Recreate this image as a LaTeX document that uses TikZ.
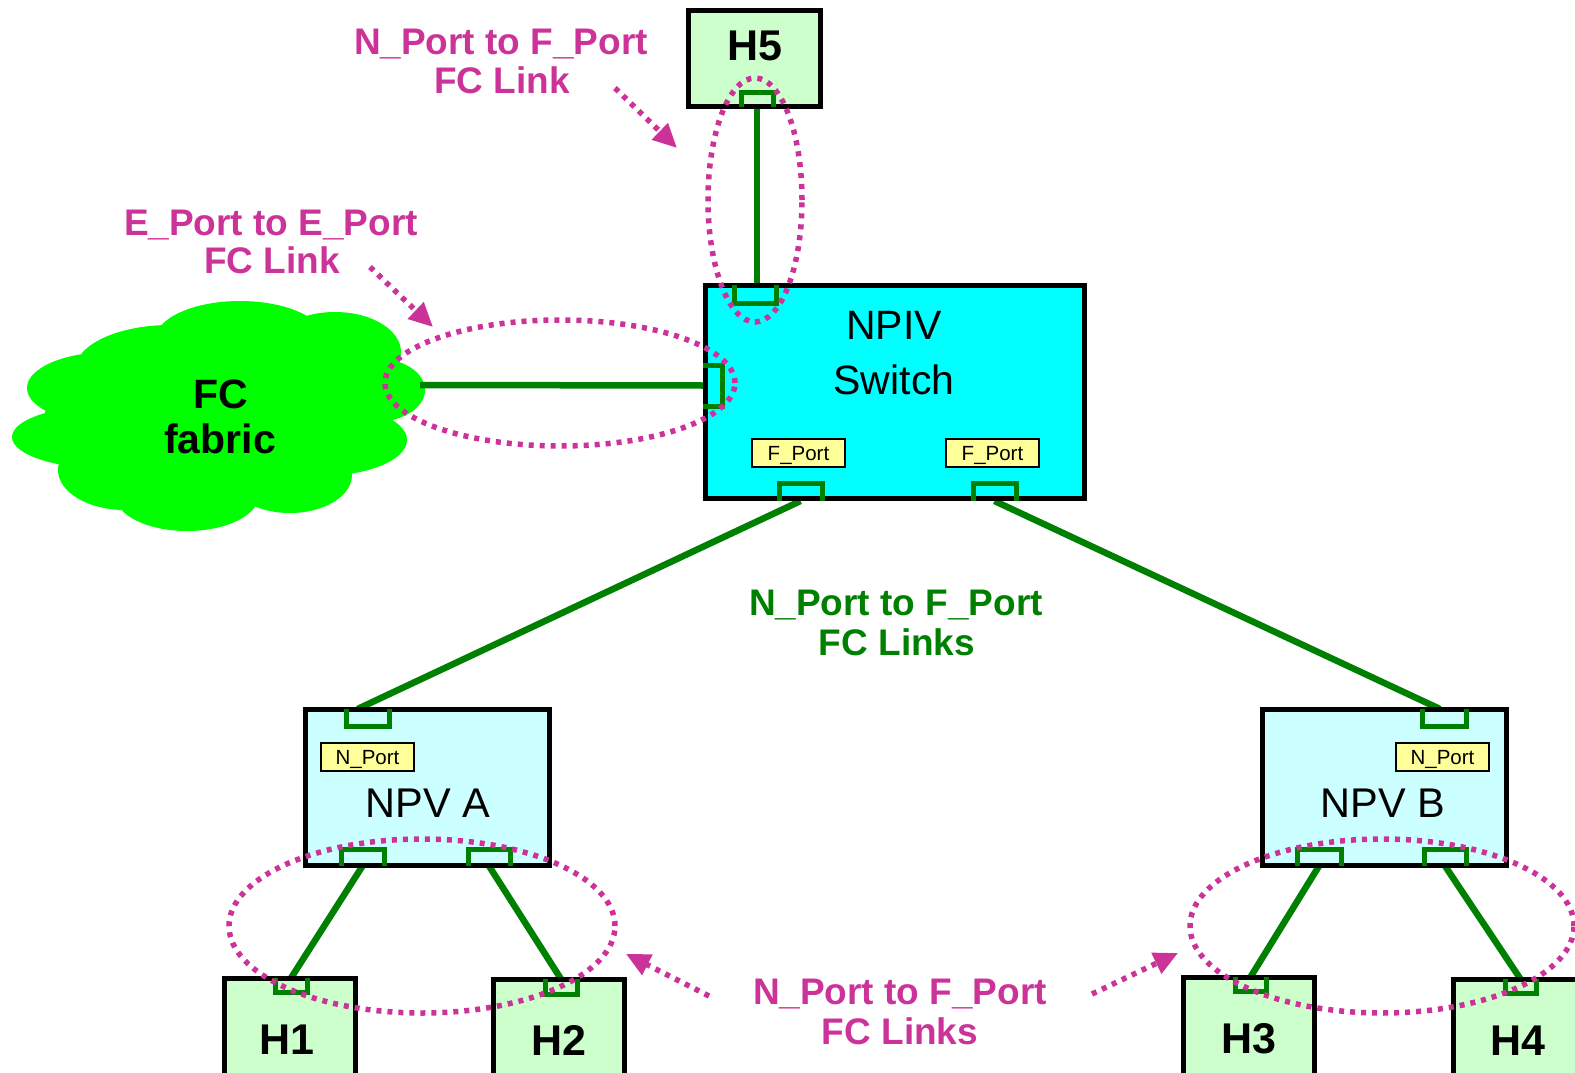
\documentclass[tikz,border=0pt]{standalone}
\usepackage{fontspec}
\setmainfont{Liberation Sans}
\usetikzlibrary{arrows.meta,shapes.geometric,backgrounds}

\definecolor{linkgreen}{RGB}{0,128,0}
\definecolor{hostfill}{RGB}{204,255,204}
\definecolor{switchfill}{RGB}{0,255,255}
\definecolor{npvfill}{RGB}{204,255,255}
\definecolor{tagfill}{RGB}{255,255,153}
\definecolor{fabricgreen}{RGB}{0,255,0}
\definecolor{notemag}{RGB}{204,51,153}

\newcommand\pxfont[1]{\fontsize{#1}{#1}\selectfont}

\begin{document}
\begin{tikzpicture}[x=1pt,y=-1pt,
  box/.style={draw=black,line width=5pt,inner sep=0pt,anchor=north west},
  hostbox/.style={box,fill=hostfill,minimum width=131pt,minimum height=140pt},
  npvbox/.style={box,fill=npvfill,minimum width=243.5pt,minimum height=156pt},
  port/.style={inner sep=0pt,outer sep=0pt,minimum width=#1},
  portline/.style={draw=linkgreen,line width=5pt},
  link/.style={draw=linkgreen,line width=6.5pt},
  tag/.style={draw=black,line width=1.8pt,fill=tagfill,inner sep=0pt,
    minimum width=93pt,minimum height=28pt,font=\pxfont{20.5},
    text height=14.7pt,text depth=0pt},
  boxtext/.style={anchor=base,inner sep=0pt,font=\pxfont{41}},
  hosttext/.style={anchor=base,inner sep=0pt,font=\pxfont{43}\bfseries},
  notetext/.style={anchor=base,inner sep=0pt,font=\pxfont{37}\bfseries,text=notemag},
  greentext/.style={anchor=base,inner sep=0pt,font=\pxfont{37}\bfseries,text=linkgreen},
  note/.style={draw=notemag,line width=5.5pt,dash pattern=on 5pt off 6pt},
  ring/.style={note,ellipse,inner sep=0pt,outer sep=0pt},
  pointer/.style={note,-{Triangle[length=24pt,width=22pt]}}
]
\useasboundingbox (0,0) rectangle (1575,1073);

% ---------- switches and hosts ----------
\node[box,fill=hostfill,minimum width=132pt,minimum height=96pt] (h5) at (686,8) {};
\node[box,fill=switchfill,minimum width=379pt,minimum height=213pt] (npiv) at (703,283) {};
\node[npvbox] (npva) at (303,707) {};
\node[npvbox] (npvb) at (1260,707) {};
\node[hostbox] (h1) at (222,976) {};
\node[hostbox] (h2) at (491,977) {};
\node[hostbox] (h3) at (1181,975) {};
\node[hostbox] (h4) at (1451,977) {};

% ---------- port brackets ----------
\node[port=32pt,minimum height=14pt] (h5p) at (757,100) {};
\node[port=42pt,minimum height=18pt] (swT) at (755,294) {};
\node[port=19pt,minimum height=41pt] (swL) at (712.5,385.5) {};
\node[port=43pt,minimum height=18pt] (swB1) at (800.5,492) {};
\node[port=43pt,minimum height=18pt] (swB2) at (994.5,492) {};
\node[port=43pt,minimum height=17pt] (aT) at (367.5,717.5) {};
\node[port=43pt,minimum height=17pt] (aB1) at (362.5,857.5) {};
\node[port=42pt,minimum height=17pt] (aB2) at (489,857.5) {};
\node[port=44pt,minimum height=17pt] (bT) at (1444,717.5) {};
\node[port=44pt,minimum height=17pt] (bB1) at (1319,857.5) {};
\node[port=42pt,minimum height=17pt] (bB2) at (1445,857.5) {};
\node[port=32pt,minimum height=14pt] (h1p) at (291,985) {};
\node[port=32pt,minimum height=15pt] (h2p) at (561,986.5) {};
\node[port=31pt,minimum height=14pt] (h3p) at (1250.5,984) {};
\node[port=31pt,minimum height=14pt] (h4p) at (1520.5,986) {};

% open towards the bottom
\foreach \p in {h5p,swB1,swB2,aB1,aB2,bB1,bB2}
  \draw[portline] (\p.south west) |- (\p.north east) -- (\p.south east);
% open towards the top
\foreach \p in {swT,aT,bT,h1p,h2p,h3p,h4p}
  \draw[portline] (\p.north west) |- (\p.south east) -- (\p.north east);
% open towards the left
\draw[portline] (swL.north west) -| (swL.south east) -- (swL.south west);

% ---------- port type tags ----------
\node[tag] (tagF1) at (798.5,453) {F\_Port};
\node[tag] (tagF2) at (992.5,453) {F\_Port};
\node[tag] (tagNA) at (367.5,757) {N\_Port};
\node[tag] (tagNB) at (1442.5,757) {N\_Port};

% ---------- device names ----------
\node[hosttext] (h5t) at (755,60) {H5};
\node[boxtext] (npivt1) at (894,339) {NPIV};
\node[boxtext] (npivt2) at (894,394) {Switch};
\node[boxtext,font=\pxfont{41.5}] (npvat) at (428,817) {NPV A};
\node[boxtext,font=\pxfont{41.5}] (npvbt) at (1383,817) {NPV B};
\node[hosttext] (h1t) at (287,1054) {H1};
\node[hosttext] (h2t) at (559,1055) {H2};
\node[hosttext] (h3t) at (1249,1053) {H3};
\node[hosttext] (h4t) at (1518,1055) {H4};

% ---------- fabric cloud and links (behind everything) ----------
\coordinate (cloudR) at (420,385);
\begin{pgfonlayer}{background}
  \fill[fabricgreen]
    (215,415) ellipse [x radius=170pt, y radius=75pt]
    (240,340) ellipse [x radius=85pt, y radius=39pt]
    (170,370) ellipse [x radius=95pt, y radius=45pt]
    (335,352) ellipse [x radius=66pt, y radius=40pt]
    (375,390) ellipse [x radius=50pt, y radius=32pt]
    (320,440) ellipse [x radius=87pt, y radius=36pt]
    (290,475) ellipse [x radius=62pt, y radius=38pt]
    (187,495) ellipse [x radius=72pt, y radius=36pt]
    (125,470) ellipse [x radius=67pt, y radius=40pt]
    (110,437) ellipse [x radius=98pt, y radius=32pt]
    (110,388) ellipse [x radius=83pt, y radius=36pt];
  \draw[link] (h5p.south) -- (h5p.south |- swT.north);
  \draw[link] (cloudR) -- (swL.west);
  \draw[link] (swB1.south) -- ([xshift=-10pt]aT.north);
  \draw[link] (swB2.south) -- ([xshift=-4pt]bT.north);
  \draw[link] (aB1.south) -- (h1p.north);
  \draw[link] (aB2.south) -- (h2p.north);
  \draw[link] (bB1.south) -- (h3p.north);
  \draw[link] (bB2.south) -- (h4p.north);
\end{pgfonlayer}
\node[hosttext,font=\pxfont{41}\bfseries] (fabt1) at (221,408) {FC};
\node[hosttext,font=\pxfont{41}\bfseries] (fabt2) at (220,453) {fabric};

% ---------- link annotations ----------
\node[ring,minimum width=94pt,minimum height=244pt] (ringH5) at (755,200) {};
\node[ring,minimum width=350pt,minimum height=126pt] (ringE) at (560,383) {};
\node[ring,minimum width=386pt,minimum height=174pt] (ringA) at (422,926) {};
\node[ring,minimum width=384pt,minimum height=174pt] (ringB) at (1382,926) {};

\node[notetext] (noteTop1) at (501,55) {N\_Port to F\_Port};
\node[notetext] (noteTop2) at (502,93) {FC Link};
\node[notetext] (noteE1) at (271,235) {E\_Port to E\_Port};
\node[notetext] (noteE2) at (272,273) {FC Link};
\node[greentext] (noteG1) at (896,615) {N\_Port to F\_Port};
\node[greentext] (noteG2) at (897,655) {FC Links};
\node[notetext] (noteB1) at (900,1004) {N\_Port to F\_Port};
\node[notetext] (noteB2) at (900,1044) {FC Links};

\coordinate (ptrTopS) at (615,88);   \coordinate (ptrTopE) at (677,148);
\coordinate (ptrES) at (370,267);    \coordinate (ptrEE) at (433,327);
\coordinate (ptrLS) at (709,996);    \coordinate (ptrLE) at (626,954);
\coordinate (ptrRS) at (1092,994);   \coordinate (ptrRE) at (1178,953);
\draw[pointer] (ptrTopS) -- (ptrTopE);
\draw[pointer] (ptrES) -- (ptrEE);
\draw[pointer] (ptrLS) -- (ptrLE);
\draw[pointer] (ptrRS) -- (ptrRE);
\end{tikzpicture}
\end{document}
